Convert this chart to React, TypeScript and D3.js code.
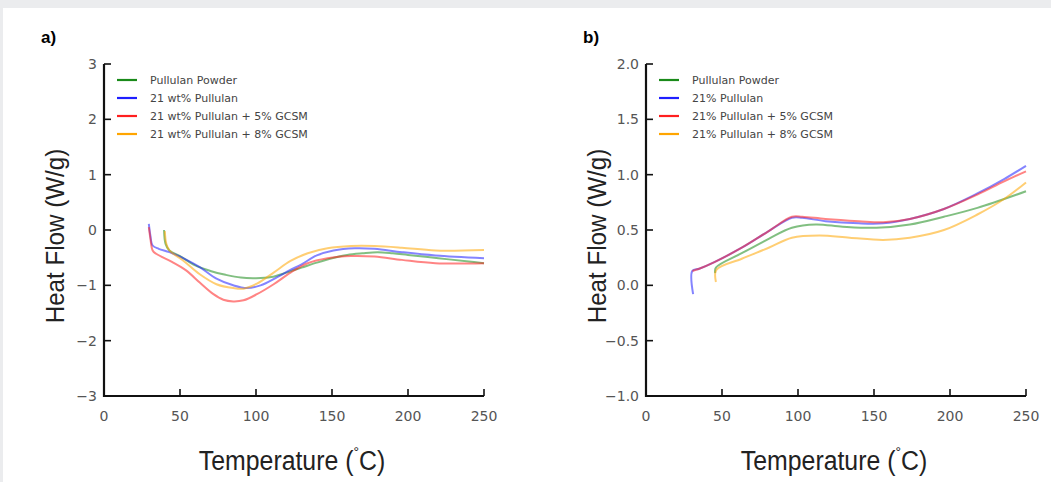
import React from "react";
import * as d3 from "d3";

// panel a) temperatures (°C) and heat flow (W/g)
const powderA_T = [39.5, 40.5, 43, 50, 60, 70, 80, 90, 100, 110, 120, 130, 140, 150, 160, 170, 180, 190, 200, 220, 240, 250];
const powderA_V = [0.0, -0.25, -0.37, -0.47, -0.64, -0.74, -0.81, -0.86, -0.87, -0.85, -0.77, -0.68, -0.59, -0.51, -0.45, -0.42, -0.4, -0.42, -0.45, -0.51, -0.57, -0.6];
const pullA_T = [29.5, 30.5, 32, 36, 43, 53, 63, 74, 85, 94, 103, 114, 122, 130, 140, 151, 165, 178, 196, 218, 250];
const pullA_V = [0.11, -0.1, -0.28, -0.34, -0.4, -0.52, -0.67, -0.88, -1.0, -1.05, -1.0, -0.85, -0.73, -0.62, -0.46, -0.37, -0.33, -0.34, -0.4, -0.46, -0.51];
const gc5A_T = [29.5, 30.5, 32, 34.3, 45, 54, 63, 72, 78.5, 85, 91.8, 100.6, 111.6, 122.7, 134, 147, 162.6, 178, 196, 218, 250];
const gc5A_V = [0.05, -0.15, -0.37, -0.43, -0.58, -0.73, -0.95, -1.16, -1.26, -1.29, -1.27, -1.16, -0.98, -0.77, -0.6, -0.51, -0.47, -0.48, -0.54, -0.6, -0.6];
const gc8A_T = [40, 41, 43, 52, 63, 74, 85, 91.8, 100.6, 111.6, 122.7, 134, 147, 162.6, 178, 196, 218, 250];
const gc8A_V = [-0.02, -0.25, -0.37, -0.55, -0.8, -0.98, -1.05, -1.06, -0.97, -0.77, -0.56, -0.42, -0.33, -0.29, -0.29, -0.32, -0.37, -0.36];

// panel b)
const powderB_T = [45.5, 46, 63, 80.7, 96, 111.7, 129.4, 151.5, 173.6, 196, 218, 250];
const powderB_V = [0.11, 0.16, 0.29, 0.42, 0.52, 0.55, 0.53, 0.52, 0.55, 0.62, 0.7, 0.85];
const pullB_T = [31, 30.5, 35, 45, 63, 80.7, 96, 102.8, 118, 140, 156, 173.6, 196, 218, 235.6, 250];
const pullB_V = [-0.08, 0.13, 0.15, 0.21, 0.34, 0.49, 0.61, 0.61, 0.58, 0.56, 0.56, 0.6, 0.69, 0.83, 0.96, 1.08];
const gc5B_T = [30.5, 35, 45, 63, 80.7, 96, 102.8, 118, 140, 156, 173.6, 196, 218, 235.6, 250];
const gc5B_V = [0.13, 0.15, 0.21, 0.34, 0.49, 0.62, 0.62, 0.6, 0.58, 0.57, 0.6, 0.69, 0.82, 0.94, 1.03];
const gc8B_T = [46, 46.3, 63, 80.7, 96, 114, 134, 156, 173.6, 196, 218, 235.6, 250];
const gc8B_V = [0.03, 0.14, 0.24, 0.34, 0.43, 0.45, 0.43, 0.41, 0.43, 0.5, 0.64, 0.78, 0.93];

const labelsA = ["Pullulan Powder", "21 wt% Pullulan", "21 wt% Pullulan + 5% GCSM", "21 wt% Pullulan + 8% GCSM"];
const labelsB = ["Pullulan Powder", "21% Pullulan", "21% Pullulan + 5% GCSM", "21% Pullulan + 8% GCSM"];
const colors = ["#1a8a1a", "#1f1fff", "#ff1f1f", "#ffa500"];
const xTicks = [0, 50, 100, 150, 200, 250];
const yTicksA = [-3, -2, -1, 0, 1, 2, 3];
const yTicksB = [-1.0, -0.5, 0.0, 0.5, 1.0, 1.5, 2.0];

const fmtMinus = (s: string) => s.replace("-", "\u2212");
const labelFont = "Liberation Sans, Arial, sans-serif";

function Panel({ left, tag, yDomain, yTicks, yFmt, series, labels }: any) {
  const top = 64, bottom = 396, width = 380;
  const x = d3.scaleLinear().domain([0, 250]).range([left, left + width]);
  const y = d3.scaleLinear().domain(yDomain).range([bottom, top]);
  const line = d3
    .line<[number, number]>()
    .x((d) => x(d[0]))
    .y((d) => y(d[1]))
    .curve(d3.curveCatmullRom.alpha(0.5));
  const tickFont = "DejaVu Sans, sans-serif";
  return (
    <g>
      <text x={left - 63} y={43} fontFamily={labelFont} fontWeight="bold" fontSize={17}>
        {tag}
      </text>
      {series.map((s: any, i: number) => (
        <path
          key={i}
          d={line(d3.zip(s[0], s[1]) as any) || ""}
          fill="none"
          stroke={colors[i]}
          strokeWidth={2}
          strokeOpacity={0.55}
        />
      ))}
      {/* axes */}
      <line x1={left} x2={left} y1={top} y2={bottom + 1} stroke="#111" strokeWidth={2.2} />
      <line x1={left - 1} x2={left + width} y1={bottom} y2={bottom} stroke="#111" strokeWidth={2.2} />
      {yTicks.map((t: number) => (
        <g key={"y" + t}>
          <line x1={left} x2={left + 7} y1={y(t)} y2={y(t)} stroke="#111" strokeWidth={1.6} />
          <text x={left - 7} y={y(t) + 5} textAnchor="end" fontFamily={tickFont} fontSize={14} fill="#555">
            {fmtMinus(yFmt(t))}
          </text>
        </g>
      ))}
      {xTicks.map((t) => (
        <g key={"x" + t}>
          {t > 0 && <line x1={x(t)} x2={x(t)} y1={bottom} y2={bottom - 7} stroke="#111" strokeWidth={1.6} />}
          <text x={x(t)} y={bottom + 25} textAnchor="middle" fontFamily={tickFont} fontSize={14} fill="#555">
            {t}
          </text>
        </g>
      ))}
      <g transform={`translate(${left + width / 2 - 2},470) scale(0.92,1)`}>
        <text x={0} y={0} textAnchor="middle" fontFamily={labelFont} fontSize={27} fill="#222">
          Temperature (<tspan fontSize={15} dy={-13}>°</tspan><tspan dy={13}>C)</tspan>
        </text>
      </g>
      <g transform={`translate(${left - 40},236) rotate(-90) scale(0.93,1)`}>
        <text x={0} y={0} textAnchor="middle" fontFamily={labelFont} fontSize={26} fill="#222">
          Heat Flow (W/g)
        </text>
      </g>
      {/* legend */}
      {labels.map((lb: string, i: number) => (
        <g key={"l" + i}>
          <line x1={left + 13} x2={left + 33} y1={80 + i * 18} y2={80 + i * 18} stroke={colors[i]} strokeWidth={2.2} />
          <text x={left + 46} y={84 + i * 18} fontFamily={tickFont} fontSize={11} fill="#444">
            {lb}
          </text>
        </g>
      ))}
    </g>
  );
}

export default function App() {
  const seriesA = [
    [powderA_T, powderA_V],
    [pullA_T, pullA_V],
    [gc5A_T, gc5A_V],
    [gc8A_T, gc8A_V],
  ];
  const seriesB = [
    [powderB_T, powderB_V],
    [pullB_T, pullB_V],
    [gc5B_T, gc5B_V],
    [gc8B_T, gc8B_V],
  ];
  return (
    <div style={{ position: "absolute", left: 0, top: 0 }}>
      <svg width={1051} height={482} style={{ display: "block" }}>
        <rect x={0} y={0} width={1051} height={482} fill="#ebecee" />
        <rect x={3} y={8} width={1048} height={474} fill="#ffffff" />
        <Panel
          left={104}
          tag="a)"
          yDomain={[-3, 3]}
          yTicks={yTicksA}
          yFmt={d3.format("d")}
          series={seriesA}
          labels={labelsA}
        />
        <Panel
          left={646}
          tag="b)"
          yDomain={[-1, 2]}
          yTicks={yTicksB}
          yFmt={d3.format(".1f")}
          series={seriesB}
          labels={labelsB}
        />
      </svg>
    </div>
  );
}
